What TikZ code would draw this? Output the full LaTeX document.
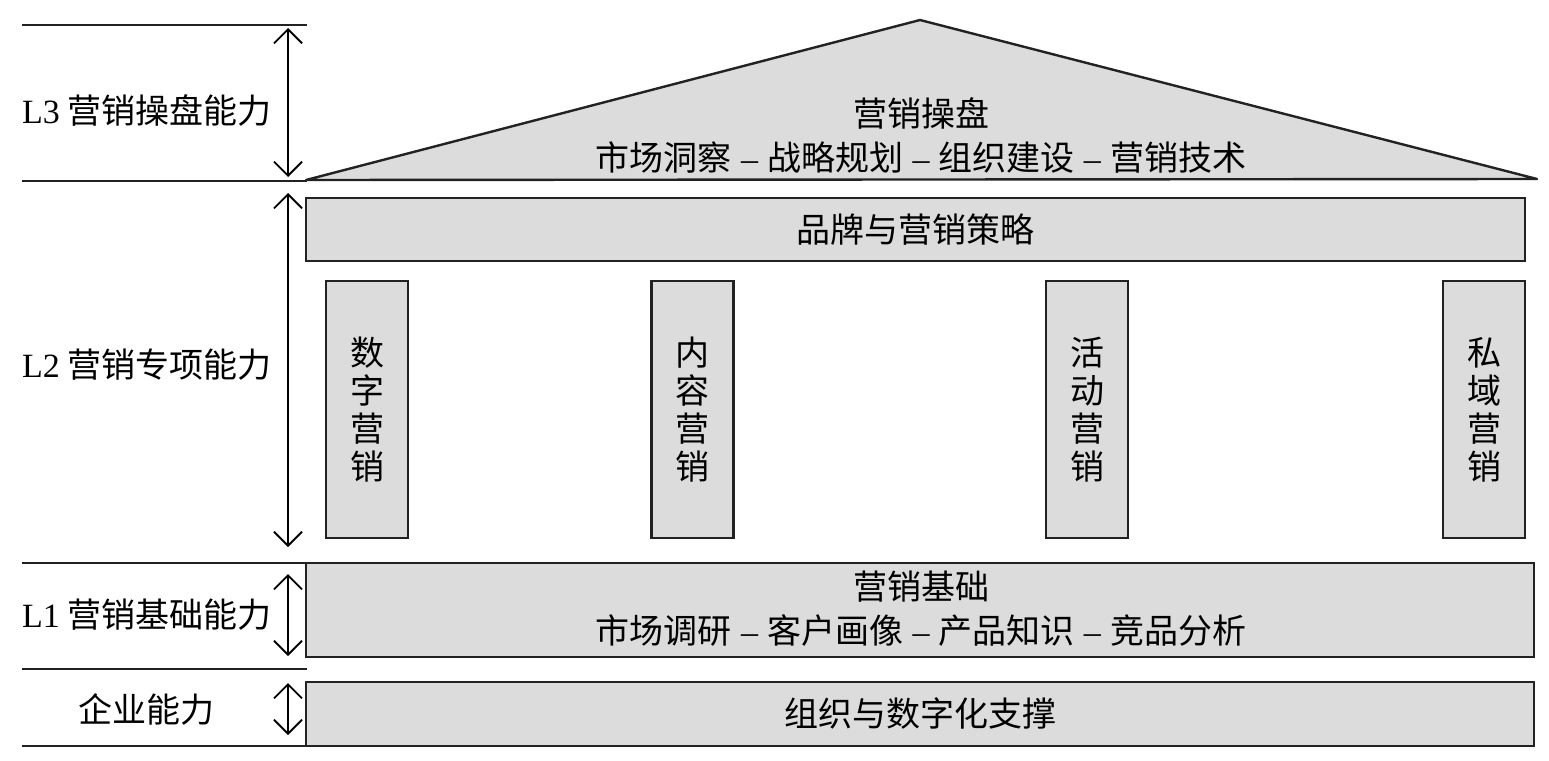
\documentclass[tikz,border=0pt]{standalone}
\usepackage{fontspec}
\setmainfont{Liberation Serif}
\newfontfamily\cjk{Noto Sans CJK SC}
\usetikzlibrary{arrows.meta}
\definecolor{boxfill}{HTML}{DCDCDC}
\definecolor{boxline}{HTML}{222222}
\newcommand{\sepdash}{{\rmfamily\hspace{0.27em}–\hspace{0.27em}}}
\begin{document}
\begin{tikzpicture}[x=1pt,y=-1pt,
  box/.style={draw=boxline, fill=boxfill, line width=2.4pt, inner sep=0pt},
  txt/.style={font=\fontsize{34}{38}\selectfont\cjk, inner sep=0pt, align=center},
  twoline/.style={font=\fontsize{34}{44}\selectfont\cjk, inner sep=0pt, align=center},
  rulel/.style={line width=2.4pt, draw=boxline},
  dim/.style={line width=1.8pt, draw=black,
    {Straight Barb[length=14pt,width=28pt]}-{Straight Barb[length=14pt,width=28pt]}}]
\useasboundingbox (0,0) rectangle (1549,760);

% horizontal rules on the left
\draw[rulel] (22,25) -- (307,25);
\draw[rulel] (22,181) -- (307,181);
\draw[rulel] (22,563) -- (307,563);
\draw[rulel] (22,669) -- (307,669);
\draw[rulel] (22,746) -- (307,746);

% roof
\draw[box, line join=round] (306,180) -- (920,20) -- (1537,179) -- cycle;
\node[twoline] (roof) at (921,135) {营销操盘\\市场洞察\sepdash 战略规划\sepdash 组织建设\sepdash 营销技术};

% beam
\node[box, minimum width=1219pt, minimum height=63pt] (brand) at (915.5,229.5) {};
\node[txt] (brandt) at (brand.center) {品牌与营销策略};

% pillars
\node[box, minimum width=82pt, minimum height=257pt] (p1) at (367,409.5) {};
\node[box, minimum width=82pt, minimum height=257pt] (p2) at (692.5,409.5) {};
\node[box, minimum width=82pt, minimum height=257pt] (p3) at (1087,409.5) {};
\node[box, minimum width=82pt, minimum height=257pt] (p4) at (1484,409.5) {};
\node[txt] (p1t) at (p1.center) {数\\字\\营\\销};
\node[txt] (p2t) at (p2.center) {内\\容\\营\\销};
\node[txt] (p3t) at (p3.center) {活\\动\\营\\销};
\node[txt] (p4t) at (p4.center) {私\\域\\营\\销};

% foundation
\node[box, minimum width=1228pt, minimum height=94pt] (base) at (920,610) {};
\node[twoline] (baset) at (921,608.5) {营销基础\\市场调研\sepdash 客户画像\sepdash 产品知识\sepdash 竞品分析};

% enterprise
\node[box, minimum width=1228pt, minimum height=64pt] (ent) at (920,714) {};
\node[txt] (entt) at (ent.center) {组织与数字化支撑};

% left labels
\node[txt, anchor=west] (l3) at (22,110) {{\rmfamily L3} 营销操盘能力};
\node[txt, anchor=west] (l2) at (22,365) {{\rmfamily L2} 营销专项能力};
\node[txt, anchor=west] (l1) at (22,615) {{\rmfamily L1} 营销基础能力};
\node[txt] (le) at (146,709) {企业能力};

% dimension arrows
\coordinate (a3t) at (288,28);  \coordinate (a3b) at (288,177);
\coordinate (a2t) at (288,193); \coordinate (a2b) at (288,547);
\coordinate (a1t) at (288,574); \coordinate (a1b) at (288,656);
\coordinate (aet) at (288,683); \coordinate (aeb) at (288,735);
\draw[dim] (a3t) -- (a3b);
\draw[dim] (a2t) -- (a2b);
\draw[dim] (a1t) -- (a1b);
\draw[dim] (aet) -- (aeb);
\end{tikzpicture}
\end{document}
